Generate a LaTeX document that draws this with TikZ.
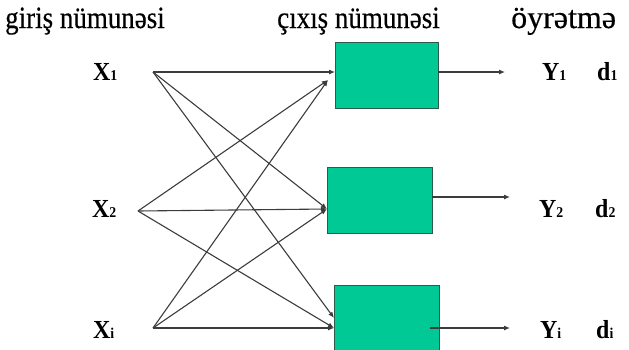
\documentclass[tikz,border=0pt]{standalone}
\usepackage{fontspec}
\setmainfont{Liberation Serif}
\newfontfamily\titlefont[FakeStretch=0.87,FakeBold=0.4]{Liberation Serif}
\newfontfamily\titlewide[FakeBold=0.4]{Liberation Serif}
\newfontfamily\labfont[FakeStretch=0.92,BoldFont={Liberation Serif Bold}]{Liberation Serif Bold}
\usetikzlibrary{arrows.meta}
\definecolor{boxfill}{RGB}{0,201,150}
\definecolor{boxedge}{RGB}{45,90,75}
\definecolor{linegray}{RGB}{60,60,60}
\begin{document}
\begin{tikzpicture}[x=1pt,y=-1pt,
  neuron/.style={draw=boxedge, fill=boxfill, line width=1pt, inner sep=0, anchor=north west},
  link/.style={draw=linegray, line width=1.1pt, -{Latex[length=6pt,width=5pt]}},
  title/.style={font=\titlefont\fontsize{31}{31}\selectfont, anchor=base west, inner sep=0},
  lab/.style={font=\labfont\fontsize{26}{26}\selectfont, anchor=base west, inner sep=0}]
\newcommand{\sm}[1]{{\fontsize{15}{15}\selectfont #1}}
\useasboundingbox (0,0) rectangle (629,349);
\clip (0,0) rectangle (629,349);
% titles
\node[title] (t1) at (5,28) {giriş nümunəsi};
\node[title] (t2) at (277,28) {çıxış nümunəsi};
\node[title, font=\titlewide\fontsize{32}{32}\selectfont] (t3) at (511,28) {öyrətmə};
% boxes
\node[neuron, minimum width=103pt, minimum height=66pt] (b1) at (335,42) {};
\node[neuron, minimum width=105pt, minimum height=66pt] (b2) at (327,167) {};
\node[neuron, minimum width=105pt, minimum height=80pt] (b3) at (334,285) {};
% input labels
\node[lab] (x1) at (93,80) {X\sm{1}};
\node[lab] (x2) at (92,217) {X\sm{2}};
\node[lab] (xi) at (93,338) {X\sm{i}};
% output labels
\node[lab] (y1) at (542,80) {Y\sm{1}};
\node[lab] (y2) at (539,217) {Y\sm{2}};
\node[lab] (yi) at (540,338) {Y\sm{i}};
\node[lab] (d1) at (597,80) {d\sm{1}};
\node[lab] (d2) at (595,217) {d\sm{2}};
\node[lab] (di) at (596,338) {d\sm{i}};
% source points
\coordinate (p1) at (153,72);
\coordinate (p2) at (138,211);
\coordinate (p3) at (153,328);
% target points
\coordinate (a1) at (335,72);
\coordinate (a2) at (328,80);
\coordinate (c) at (327,209);
\coordinate (e1) at (334,318);
\coordinate (e2) at (334,328);
% output points
\coordinate (o1) at (438,72);
\coordinate (q1) at (505,72);
\coordinate (o2) at (432,197);
\coordinate (q2) at (510,197);
\coordinate (o3) at (430,328);
\coordinate (q3) at (510,328);
% connections
\draw[link] (p1) -- (a1);
\draw[link] (p1) -- (c);
\draw[link] (p1) -- (e1);
\draw[link] (p2) -- (a2);
\draw[link] (p2) -- (c);
\draw[link] (p2) -- (e2);
\draw[link] (p3) -- (a2);
\draw[link] (p3) -- (c);
\draw[link] (p3) -- (e2);
\draw[link] (o1) -- (q1);
\draw[link] (o2) -- (q2);
\draw[link] (o3) -- (q3);
\end{tikzpicture}
\end{document}
